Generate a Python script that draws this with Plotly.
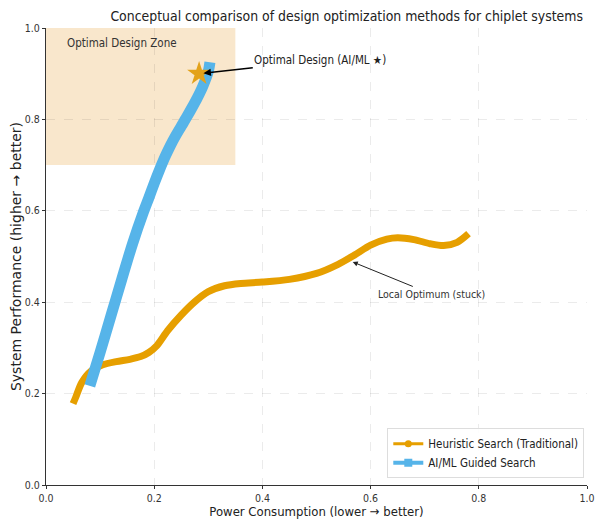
import plotly.graph_objects as go

# Heuristic Search (Traditional)
heur_x = [0.05, 0.055, 0.066, 0.084, 0.105, 0.13, 0.155, 0.175, 0.19, 0.205, 0.225, 0.25, 0.275, 0.30,
          0.33, 0.36, 0.40, 0.45, 0.50, 0.54, 0.57, 0.60, 0.63, 0.65, 0.68, 0.71, 0.735, 0.76, 0.781]
heur_y = [0.178, 0.192, 0.224, 0.25, 0.263, 0.27, 0.275, 0.281, 0.29, 0.305, 0.338, 0.372, 0.401, 0.423,
          0.436, 0.441, 0.444, 0.45, 0.463, 0.483, 0.503, 0.525, 0.538, 0.541, 0.537, 0.528, 0.524, 0.531, 0.55]

# AI/ML Guided Search
ai_x = [0.081, 0.10, 0.12, 0.14, 0.16, 0.18, 0.19, 0.20, 0.21, 0.22, 0.23, 0.24, 0.25, 0.26, 0.27,
        0.28, 0.29, 0.30, 0.303]
ai_y = [0.217, 0.29, 0.37, 0.45, 0.528, 0.597, 0.628, 0.66, 0.69, 0.718, 0.743, 0.765, 0.785, 0.805,
        0.826, 0.848, 0.873, 0.905, 0.925]

opt_point = (0.283, 0.90)
local_opt = (0.567, 0.488)
zone_x = [0.0, 0.35]
zone_y = [0.7, 1.0]
ticks = [0.0, 0.2, 0.4, 0.6, 0.8, 1.0]
tick_text = ["0.0", "0.2", "0.4", "0.6", "0.8", "1.0"]

ORANGE = "#E69F00"
BLUE = "#56B4E9"
FONT = "DejaVu Sans"
CFONT = "DejaVu Sans Condensed, DejaVu Sans"

W, H = 596, 511  # page body has an 8px margin

fig = go.Figure()

fig.add_shape(type="rect", xref="x", yref="y", x0=zone_x[0], x1=zone_x[1], y0=zone_y[0], y1=zone_y[1],
              fillcolor="#f9e7cc", line=dict(width=0), layer="below")

fig.add_trace(go.Scatter(x=heur_x, y=heur_y, mode="lines", line=dict(color=ORANGE, width=7, shape="spline", smoothing=0.8),
                         showlegend=False, hoverinfo="skip"))
fig.add_trace(go.Scatter(x=ai_x, y=ai_y, mode="lines", line=dict(color=BLUE, width=11, shape="spline", smoothing=0.8),
                         showlegend=False, hoverinfo="skip"))
fig.add_trace(go.Scatter(x=[opt_point[0]], y=[opt_point[1]], mode="markers",
                         marker=dict(symbol="star", size=18, color="#E3A21A", line=dict(width=0)),
                         showlegend=False, hoverinfo="skip"))

# legend entries
fig.add_trace(go.Scatter(x=[None], y=[None], mode="lines+markers", name="Heuristic Search (Traditional)",
                         line=dict(color=ORANGE, width=3), marker=dict(symbol="circle", size=7, color=ORANGE)))
fig.add_trace(go.Scatter(x=[None], y=[None], mode="lines+markers", name="AI/ML Guided Search",
                         line=dict(color=BLUE, width=4), marker=dict(symbol="square", size=8, color=BLUE)))

fig.add_annotation(x=opt_point[0] + 0.008, y=opt_point[1] + 0.001, xref="x", yref="y",
                   ax=0.507, ay=0.93, axref="x", ayref="y",
                   text="Optimal Design (AI/ML ★)", showarrow=True, arrowhead=2, arrowsize=1,
                   arrowwidth=1.5, arrowcolor="black", font=dict(family=CFONT, size=11.5, color="#222"))
fig.add_annotation(x=local_opt[0], y=local_opt[1], xref="x", yref="y",
                   ax=0.712, ay=0.418, axref="x", ayref="y",
                   text="Local Optimum (stuck)", showarrow=True, arrowhead=2, arrowsize=1,
                   arrowwidth=1, arrowcolor="#222", font=dict(family=CFONT, size=10.5, color="#333"))
fig.add_annotation(x=0.035, y=0.967, xref="x", yref="y", text="Optimal Design Zone", showarrow=False,
                   xanchor="left", yanchor="middle", font=dict(family=CFONT, size=11.5, color="#333"))

axis_common = dict(range=[0, 1], tickvals=ticks, ticktext=tick_text, showgrid=True,
                   gridcolor="rgba(0,0,0,0.08)", griddash="dash", gridwidth=1,
                   showline=True, linecolor="#333", linewidth=1.2, ticks="outside", ticklen=3,
                   tickcolor="#333", zeroline=False, mirror=False, automargin=False,
                   tickfont=dict(family=CFONT, size=10.5, color="#333"))

fig.update_layout(
    width=W, height=H,
    margin=dict(l=38, r=17, t=20, b=34),
    paper_bgcolor="white", plot_bgcolor="white",
    title=dict(text="Conceptual comparison of design optimization methods for chiplet systems",
               x=575 / W, xanchor="right", y=1 - 8 / H, yanchor="middle",
               font=dict(family=CFONT, size=13.9, color="#222")),
    xaxis=dict(**axis_common, title=dict(text="Power Consumption (lower → better)", standoff=4,
                                         font=dict(family=CFONT, size=13, color="#222"))),
    yaxis=dict(**axis_common, title=dict(text="System Performance (higher → better)", standoff=3,
                                         font=dict(family=FONT, size=14, color="#222"))),
    legend=dict(x=0.995, y=0.015, xanchor="right", yanchor="bottom", bgcolor="rgba(255,255,255,0.9)",
                bordercolor="#ddd", borderwidth=1, font=dict(family=CFONT, size=11.5, color="#222"),
                tracegroupgap=0),
)

fig.write_html("out.html")
